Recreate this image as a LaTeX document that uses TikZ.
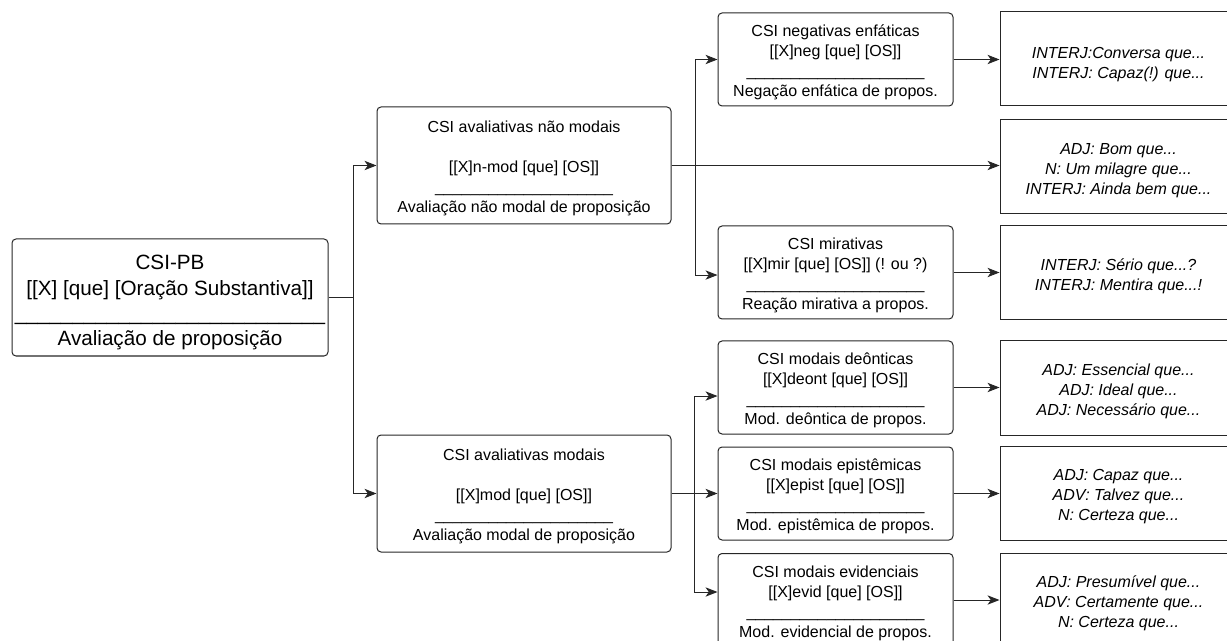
\documentclass[tikz,border=0pt]{standalone}
\usepackage{fontspec}
\setmainfont{Liberation Sans}
\usetikzlibrary{arrows.meta}

\newcommand{\tracoraiz}{\_\_\_\_\_\_\_\_\_\_\_\_\_\_\_\_\_\_\_\_\_\_\_\_\_\_\_}
\newcommand{\traco}{\_\_\_\_\_\_\_\_\_\_\_\_\_\_\_\_\_\_\_\_}
\newcommand{\topo}{\rule{0pt}{13.2pt}}
\newcommand{\toporaiz}{\rule{0pt}{19pt}}

\tikzset{
  caixa/.style={draw=black!85, line width=0.75pt, rounded corners=3pt, align=center, inner sep=0pt},
  raiz/.style={caixa, minimum width=237pt, minimum height=87.75pt, font=\fontsize{15.5}{19}\selectfont},
  aval/.style={caixa, minimum width=220.5pt, minimum height=87.75pt},
  subtipo/.style={caixa, minimum width=176.25pt, minimum height=69.75pt},
  exemplo/.style={caixa, sharp corners, minimum width=177.75pt, minimum height=70.5pt, font=\fontsize{12}{15}\selectfont\itshape},
  seta/.style={draw=black!85, line width=0.75pt, -{Stealth[length=9pt,width=7pt,inset=2.5pt]}}
}

\begin{document}
\begin{tikzpicture}[x=0.75pt,y=0.75pt,yscale=-1,xscale=1, font=\fontsize{12}{15}\selectfont]
  \useasboundingbox (0,0) rectangle (1227,641);

  % raiz
  \node[raiz] (raiz) at (170,297.5) {\toporaiz CSI-PB\\{[}[X] [que] [Oração Substantiva]]\\\tracoraiz\\Avaliação de proposição};

  % avaliativas
  \node[aval] (nmod) at (524,165.5) {\topo CSI avaliativas não modais\\[15pt]{[}[X]n-mod [que] [OS]]\\\traco\\Avaliação não modal de proposição};
  \node[aval] (mod) at (524,493.5) {\topo CSI avaliativas modais\\[15pt]{[}[X]mod [que] [OS]]\\\traco\\Avaliação modal de proposição};

  % subtipos
  \node[subtipo] (neg) at (835.5,59.5) {\topo CSI negativas enfáticas\\{[}[X]neg [que] [OS]]\\\traco\\Negação enfática de propos.};
  \node[subtipo] (mir) at (835.5,272.5) {\topo CSI mirativas\\{[}[X]mir [que] [OS]] (! ou ?)\\\traco\\Reação mirativa a propos.};
  \node[subtipo] (deon) at (835.5,387.5) {\topo CSI modais deônticas\\{[}[X]deont [que] [OS]]\\\traco\\Mod. deôntica de propos.};
  \node[subtipo] (epis) at (835.5,493.5) {\topo CSI modais epistêmicas\\{[}[X]epist [que] [OS]]\\\traco\\Mod. epistêmica de propos.};
  \node[subtipo] (evid) at (835.5,600) {\topo CSI modais evidenciais\\{[}[X]evid [que] [OS]]\\\traco\\Mod. evidencial de propos.};

  % exemplos
  \node[exemplo] (exneg) at (1118.5,59) {\rule{0pt}{16pt}INTERJ:Conversa que...\\INTERJ: Capaz(!) que...};
  \node[exemplo] (exnmod) at (1118.5,167) {\topo ADJ: Bom que...\\N: Um milagre que...\\INTERJ: Ainda bem que...};
  \node[exemplo] (exmir) at (1118.5,273) {\topo INTERJ: Sério que...?\\INTERJ: Mentira que...!};
  \node[exemplo] (exdeon) at (1118.5,388) {\topo ADJ: Essencial que...\\ADJ: Ideal que...\\ADJ: Necessário que...};
  \node[exemplo] (exepis) at (1118.5,493.5) {\topo ADJ: Capaz que...\\ADV: Talvez que...\\N: Certeza que...};
  \node[exemplo] (exevid) at (1118.5,600) {\topo ADJ: Presumível que...\\ADV: Certamente que...\\N: Certeza que...};

  % conectores
  \draw[seta] (raiz.east) -- ++(25,0) |- (nmod.west);
  \draw[seta] (raiz.east) -- ++(25,0) |- (mod.west);
  \draw[seta] (nmod.east) -- ++(24,0) |- (neg.west);
  \draw[seta] (nmod.east) -- ++(24,0) |- ([yshift=1.9pt]mir.west);
  \draw[seta] (nmod.east) -- (nmod.east -| exnmod.west);
  \draw[seta] (mod.east) -- ++(23,0) |- ([yshift=6.4pt]deon.west);
  \draw[seta] (mod.east) -- ++(23,0) |- (epis.west);
  \draw[seta] (mod.east) -- ++(23,0) |- ([yshift=-6pt]evid.west);
  \foreach \n in {neg,mir,deon,epis,evid}
    \draw[seta] (\n.east) -- (\n.east -| ex\n.west);
\end{tikzpicture}
\end{document}
